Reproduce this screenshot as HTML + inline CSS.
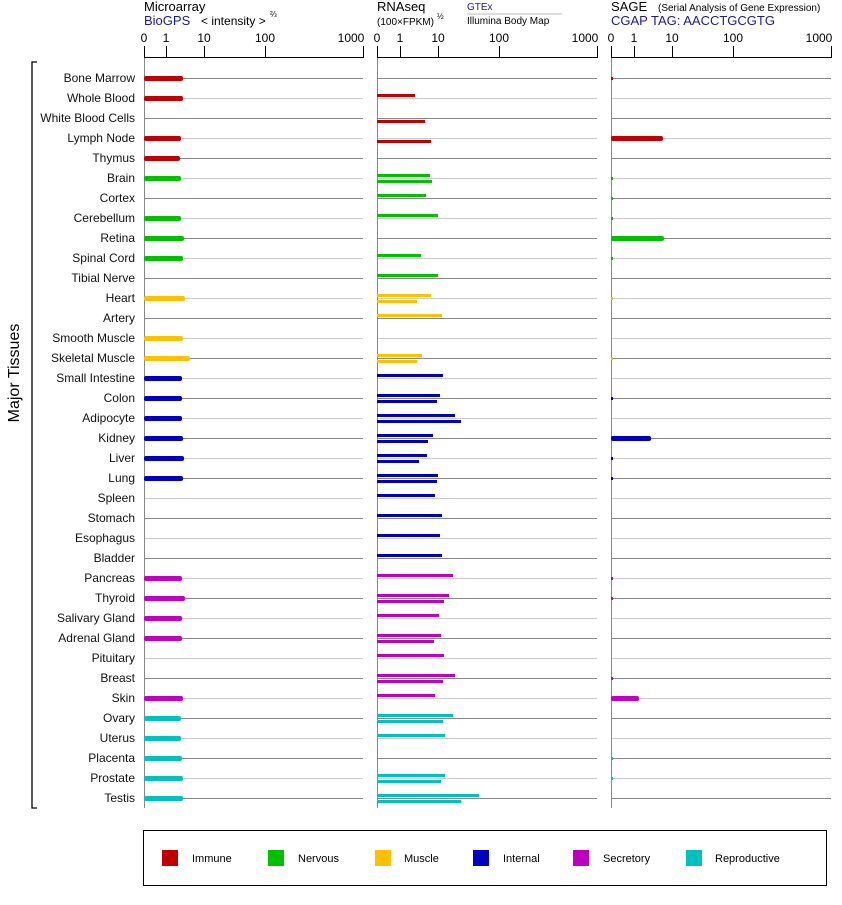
<!DOCTYPE html>
<html><head><meta charset="utf-8"><style>
body{margin:0;background:#fff;width:842px;height:900px;overflow:hidden}
svg{font-family:"Liberation Sans",Arial,sans-serif}
</style></head><body>
<svg id="s" width="842" height="900" xmlns="http://www.w3.org/2000/svg">
<g font-size="13" fill="#000">
<text x="144" y="11">Microarray</text>
<text x="144" y="25" fill="#1a1a9a">BioGPS</text>
<text x="201" y="25" font-size="12">&lt; intensity &gt;</text>
<text x="270" y="17" font-size="8">⅔</text>
<text x="377" y="11">RNAseq</text>
<text x="377" y="25" font-size="10">(100×FPKM)</text>
<text x="437" y="19" font-size="8">½</text>
<text x="467" y="10" font-size="10" fill="#1a1a9a">GTEx</text>
<text x="467" y="24" font-size="10">Illumina Body Map</text>
<text x="611" y="11">SAGE</text>
<text x="658" y="11" font-size="10">(Serial Analysis of Gene Expression)</text>
<text x="611" y="25" fill="#1a1a9a">CGAP TAG: AACCTGCGTG</text>
</g>
<line x1="467" y1="14" x2="562" y2="14" stroke="#bbb"/>
<g font-size="12" text-anchor="middle">
<text x="144" y="42">0</text><text x="166" y="42">1</text><text x="204" y="42">10</text><text x="265" y="42">100</text><text x="351" y="42">1000</text>
<text x="377" y="42">0</text><text x="400" y="42">1</text><text x="438" y="42">10</text><text x="499" y="42">100</text><text x="585" y="42">1000</text>
<text x="611" y="42">0</text><text x="634" y="42">1</text><text x="672" y="42">10</text><text x="733" y="42">100</text><text x="819" y="42">1000</text>
</g>
<g id="grid"></g>
<g font-size="12" text-anchor="end" fill="#111">
<text x="135" y="82">Bone Marrow</text><text x="135" y="102">Whole Blood</text><text x="135" y="122">White Blood Cells</text><text x="135" y="142">Lymph Node</text><text x="135" y="162">Thymus</text><text x="135" y="182">Brain</text><text x="135" y="202">Cortex</text><text x="135" y="222">Cerebellum</text><text x="135" y="242">Retina</text><text x="135" y="262">Spinal Cord</text><text x="135" y="282">Tibial Nerve</text><text x="135" y="302">Heart</text><text x="135" y="322">Artery</text><text x="135" y="342">Smooth Muscle</text><text x="135" y="362">Skeletal Muscle</text><text x="135" y="382">Small Intestine</text><text x="135" y="402">Colon</text><text x="135" y="422">Adipocyte</text><text x="135" y="442">Kidney</text><text x="135" y="462">Liver</text><text x="135" y="482">Lung</text><text x="135" y="502">Spleen</text><text x="135" y="522">Stomach</text><text x="135" y="542">Esophagus</text><text x="135" y="562">Bladder</text><text x="135" y="582">Pancreas</text><text x="135" y="602">Thyroid</text><text x="135" y="622">Salivary Gland</text><text x="135" y="642">Adrenal Gland</text><text x="135" y="662">Pituitary</text><text x="135" y="682">Breast</text><text x="135" y="702">Skin</text><text x="135" y="722">Ovary</text><text x="135" y="742">Uterus</text><text x="135" y="762">Placenta</text><text x="135" y="782">Prostate</text><text x="135" y="802">Testis</text>
</g>
<path d="M37 62 H32 V808 H37" fill="none" stroke="#000" stroke-width="1.3"/>
<text x="19" y="373" font-size="16" text-anchor="middle" transform="rotate(-90 19 373)">Major Tissues</text>
<rect x="143.5" y="830.5" width="683" height="55" fill="none" stroke="#000"/>
<g font-size="11">
<rect x="162" y="850" width="16" height="16" fill="#c00000"/><text x="192" y="862">Immune</text>
<rect x="268" y="850" width="16" height="16" fill="#00c000"/><text x="298" y="862">Nervous</text>
<rect x="375" y="850" width="16" height="16" fill="#ffc000"/><text x="404" y="862">Muscle</text>
<rect x="473" y="850" width="16" height="16" fill="#0000c0"/><text x="503" y="862">Internal</text>
<rect x="573" y="850" width="16" height="16" fill="#c000c0"/><text x="603" y="862">Secretory</text>
<rect x="686" y="850" width="16" height="16" fill="#00c0c0"/><text x="715" y="862">Reproductive</text>
</g>
</svg>
<script>
var g=document.getElementById('grid'),NS='http://www.w3.org/2000/svg';
function el(t,a){var e=document.createElementNS(NS,t);for(var k in a)e.setAttribute(k,a[k]);g.appendChild(e);return e}
var P=[[144,[166,204,265,363]],[377,[400,438,499,597]],[611,[634,672,733,831]]];
P.forEach(function(p){var x0=p[0],e=p[1][3];
for(var i=0;i<37;i++){var y=78+20*i;el('line',{x1:x0,x2:e,y1:y+.5,y2:y+.5,stroke:i%2?'#ccc':'#888'})}
el('line',{x1:x0+.5,x2:x0+.5,y1:57,y2:808,stroke:'#888'});
el('line',{x1:x0,x2:e+1,y1:57.5,y2:57.5,stroke:'#000'});
[x0].concat(p[1]).forEach(function(t){el('line',{x1:t+.5,x2:t+.5,y1:46,y2:57,stroke:'#000'})});});
var C=['#c00000','#00c000','#ffc000','#0000c0','#c000c0','#00c0c0'];
var cat=[0,0,0,0,0,1,1,1,1,1,1,2,2,2,2,3,3,3,3,3,3,3,3,3,3,4,4,4,4,4,4,4,5,5,5,5,5];
var M=[183,183,0,181,180,181,0,181,184,183,0,185,0,183,190,182,182,182,183,184,183,0,0,0,0,182,185,182,182,0,0,183,181,181,182,183,183];
var R=[[0,0],[415,0],[0,425],[0,431],[0,0],[430,432],[426,0],[438,0],[0,0],[421,0],[438,0],[431,417],[442,0],[0,0],[422,417],[443,0],[440,437],[455,461],[433,428],[427,419],[438,437],[435,0],[442,0],[440,0],[442,0],[453,0],[449,444],[439,0],[441,434],[444,0],[455,443],[435,0],[453,443],[445,0],[0,0],[445,441],[479,461]];
var S={0:613,3:663,5:613,6:613,7:613,8:664,9:613,11:613,14:613,16:613,18:651,19:613,20:613,25:613,26:613,30:613,31:639,34:613,35:613};
for(var i=0;i<37;i++){var y=78+20*i,c=C[cat[i]];
if(M[i])el('rect',{x:144,y:y-2,width:M[i]-144,height:5,rx:2,fill:c});
if(R[i][0])el('rect',{x:377,y:y-4,width:R[i][0]-377,height:3,fill:c});
if(R[i][1])el('rect',{x:377,y:y+2,width:R[i][1]-377,height:3,fill:c});
if(S[i]!==undefined){var w=S[i]-611;el('rect',{x:611,y:w>3?y-2:y-1,width:w,height:w>3?5:3,rx:w>3?2:0,fill:c})}}
</script>
</body></html>
